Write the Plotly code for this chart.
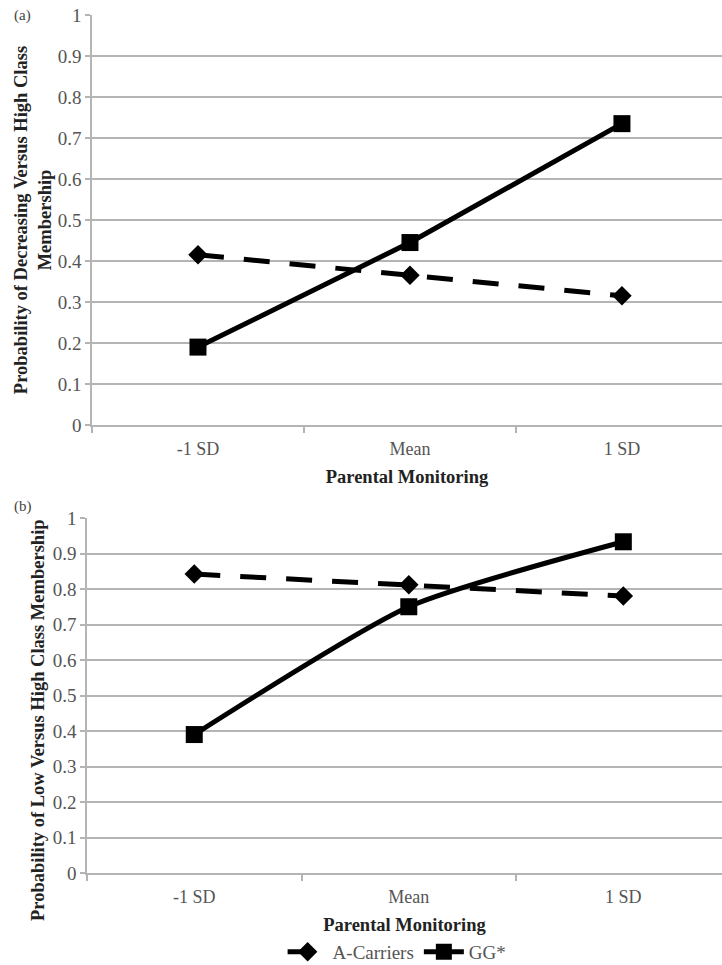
import plotly.graph_objects as go

categories = ["-1 SD", "Mean", "1 SD"]
a_carriers_a = [0.415, 0.365, 0.315]
gg_a = [0.19, 0.445, 0.735]
a_carriers_b = [0.842, 0.812, 0.78]
gg_b = [0.39, 0.75, 0.933]
y_ticks = [0, 0.1, 0.2, 0.3, 0.4, 0.5, 0.6, 0.7, 0.8, 0.9, 1]
y_tick_labels = ["0", "0.1", "0.2", "0.3", "0.4", "0.5", "0.6", "0.7", "0.8", "0.9", "1"]

W, H = 722, 965
FONT = "Liberation Serif"
GRID = "#b4b4b4"
TICKC = "#555555"
TITLEC = "#222222"

fig = go.Figure()

def add_series(xa, ya, a_vals, g_vals, show, g_shape):
    fig.add_trace(go.Scatter(
        x=categories, y=a_vals, name="A-Carriers", xaxis=xa, yaxis=ya,
        mode="lines+markers", showlegend=show,
        line=dict(color="black", width=5, dash="26px,20px"),
        marker=dict(symbol="diamond", size=15, color="black"),
    ))
    fig.add_trace(go.Scatter(
        x=categories, y=g_vals, name="GG*", xaxis=xa, yaxis=ya,
        mode="lines+markers", showlegend=show,
        line=dict(color="black", width=5, shape=g_shape, smoothing=0.6),
        marker=dict(symbol="square", size=17, color="black"),
    ))

add_series("x", "y", a_carriers_a, gg_a, True, "linear")
add_series("x2", "y2", a_carriers_b, gg_b, False, "spline")

xcommon = dict(
    type="category", categoryorder="array", categoryarray=categories,
    showgrid=False, showline=True, linecolor=GRID, linewidth=1.5,
    ticks="outside", tickson="boundaries", ticklen=6, tickcolor=GRID, tickwidth=1.5,
    ticklabelstandoff=7,
    tickfont=dict(family=FONT, size=18, color=TICKC),
    zeroline=False, fixedrange=True, automargin=False,
)
ycommon = dict(
    range=[0, 1], tickvals=y_ticks, ticktext=y_tick_labels,
    showgrid=True, gridcolor=GRID, gridwidth=1.5,
    showline=True, linecolor=GRID, linewidth=1.5,
    ticks="outside", ticklen=5, tickcolor=GRID, tickwidth=1.5,
    tickfont=dict(family=FONT, size=19, color=TICKC),
    zeroline=False, fixedrange=True, automargin=False,
)

fig.update_layout(
    width=W, height=H,
    margin=dict(l=0, r=0, t=0, b=0, autoexpand=False),
    paper_bgcolor="white", plot_bgcolor="white",
    font=dict(family=FONT, color=TITLEC),
    xaxis=dict(**xcommon, domain=[92 / W, 1], range=[-0.5, 2.472], anchor="y",
               title=dict(text="<b>Parental Monitoring</b>", standoff=12,
                          font=dict(family=FONT, size=18.5, color=TITLEC))),
    yaxis=dict(**ycommon, domain=[1 - 425 / H, 1 - 15 / H], anchor="x",
               title=dict(text="<b>Probability of Decreasing Versus High Class<br>Membership</b>",
                          standoff=1, font=dict(family=FONT, size=18.5, color=TITLEC))),
    xaxis2=dict(**xcommon, domain=[87 / W, 1], range=[-0.5, 2.46], anchor="y2",
                title=dict(text="<b>Parental Monitoring</b>", standoff=12,
                           font=dict(family=FONT, size=18.5, color=TITLEC))),
    yaxis2=dict(**ycommon, domain=[1 - 873 / H, 1 - 518 / H], anchor="x2"),
    legend=dict(orientation="h", x=0.55, xanchor="center", y=13 / H, yanchor="middle",
                font=dict(family=FONT, size=19, color=TICKC), itemwidth=40,
                bgcolor="rgba(0,0,0,0)"),
    annotations=[
        dict(text="(a)", x=12 / W, y=1 - 15 / H, xref="paper", yref="paper",
             xanchor="left", yanchor="middle", showarrow=False,
             font=dict(family=FONT, size=15, color="#444444")),
        dict(text="(b)", x=12 / W, y=1 - 506 / H, xref="paper", yref="paper",
             xanchor="left", yanchor="middle", showarrow=False,
             font=dict(family=FONT, size=15, color="#444444")),
        dict(text="<b>Probability of Low Versus High Class Membership</b>",
             x=38 / W, y=1 - 720 / H, xref="paper", yref="paper", textangle=-90,
             xanchor="center", yanchor="middle", showarrow=False,
             font=dict(family=FONT, size=18.5, color=TITLEC)),
    ],
)

fig.write_html("out.html", config={"displayModeBar": False},
               post_script="document.body.style.margin='0';")
